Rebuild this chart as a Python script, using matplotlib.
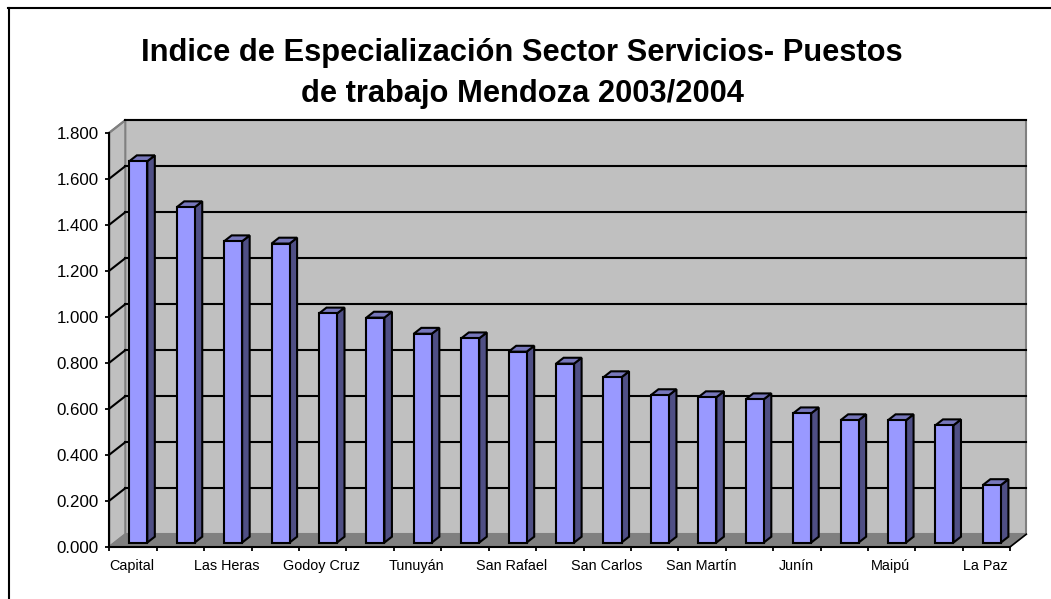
import matplotlib
matplotlib.use('Agg')
import matplotlib.pyplot as plt
from matplotlib.lines import Line2D

plt.rcParams['font.family'] = ['Liberation Sans', 'DejaVu Sans']

# datos
departamentos = ['Capital', '', 'Las Heras', '', 'Godoy Cruz', '', 'Tunuyán', '', 'San Rafael', '',
                 'San Carlos', '', 'San Martín', '', 'Junín', '', 'Maipú', '', 'La Paz']
indice = [1.658, 1.458, 1.310, 1.300, 0.996, 0.978, 0.908, 0.888, 0.830, 0.778,
          0.719, 0.641, 0.632, 0.623, 0.562, 0.532, 0.532, 0.510, 0.250]
y_ticks = [0.0, 0.2, 0.4, 0.6, 0.8, 1.0, 1.2, 1.4, 1.6, 1.8]
titulo = 'Indice de Especialización Sector Servicios- Puestos\nde trabajo Mendoza 2003/2004'

W, H = 1051, 599
fig = plt.figure(figsize=(W / 100, H / 100), dpi=100, facecolor='white')
ax = fig.add_axes([109.3 / W, 1 - 546.7 / H, (1010.3 - 109.3) / W, (546.7 - 132.7) / H])
n = len(indice)
ax.set_xlim(0, n)
ax.set_ylim(0, 1.8)
ax.patch.set_visible(False)

# desplazamiento de la profundidad 3D en unidades de datos
DX = 16 / 47.42
DY = 12.5 / 230


def poly(xs, ys, ds, color, edge='black', lw=1.5, z=2):
    px = [x + d * DX for x, d in zip(xs, ds)]
    py = [y + d * DY for y, d in zip(ys, ds)]
    ax.fill(px, py, facecolor=color, edgecolor=edge, linewidth=lw, clip_on=False,
            zorder=z, joinstyle='miter')


# paredes y piso
poly([0, n, n, 0], [0, 0, 1.8, 1.8], [1, 1, 1, 1], '#C0C0C0', edge='#808080', lw=1.5, z=1)
poly([0, 0, 0, 0], [0, 0, 1.8, 1.8], [0, 1, 1, 0], '#C0C0C0', edge='#808080', lw=1.5, z=1)
poly([0, n, n, 0], [0, 0, 0, 0], [0, 0, 1, 1], '#808080', edge='#808080', lw=1.0, z=1.5)

# grilla
for v in y_ticks[1:]:
    col = 'black' if v < 1.8 else '#808080'
    ax.plot([0, DX], [v, v + DY], color=col, lw=1.5, clip_on=False, zorder=1.6)
    ax.plot([DX, n + DX], [v + DY, v + DY], color='black', lw=1.5, clip_on=False, zorder=1.6)
ax.plot([n, n + DX], [0, DY], color='black', lw=1.2, clip_on=False, zorder=1.6)

# barras
ancho = 0.38
d0, d1 = 0.33, 0.80
for i, v in enumerate(indice):
    x0 = i + 0.5 - ancho / 2
    x1 = x0 + ancho
    poly([x1, x1, x1, x1], [0, 0, v, v], [d0, d1, d1, d0], '#4F4F85')
    poly([x0, x1, x1, x0], [v, v, v, v], [d0, d0, d1, d1], '#7777BB')
    poly([x0, x1, x1, x0], [0, 0, v, v], [d0, d0, d0, d0], '#9999FF')

for s in ['top', 'right']:
    ax.spines[s].set_visible(False)
for s in ['left', 'bottom']:
    ax.spines[s].set_linewidth(1.5)
    ax.spines[s].set_zorder(5)

ax.set_yticks(y_ticks)
ax.set_yticklabels(['%.3f' % v for v in y_ticks], fontsize=12.2)
ax.set_xticks(range(n + 1))
ax.set_xticklabels([])
ax.set_xticks([i + 0.48 for i in range(n)], minor=True)
ax.set_xticklabels(departamentos, minor=True, fontsize=10.4)
ax.tick_params(axis='y', which='major', length=3.2, width=1.3, pad=4.5)
ax.tick_params(axis='x', which='major', length=3.2, width=1.3)
ax.tick_params(axis='x', which='minor', length=0, pad=9)

fig.text(522 / W, 1 - 73.5 / H, titulo, ha='center', va='center', fontsize=22.2,
         fontweight='bold', linespacing=1.52)

# marco del grafico
fig.add_artist(Line2D([8.5 / W, 8.5 / W], [0, 1 - 8 / H], color='black', lw=1.5, transform=fig.transFigure))
fig.add_artist(Line2D([8 / W, 1], [1 - 8 / H, 1 - 8 / H], color='black', lw=1.5, transform=fig.transFigure))

fig.savefig('out.png', dpi=100)
